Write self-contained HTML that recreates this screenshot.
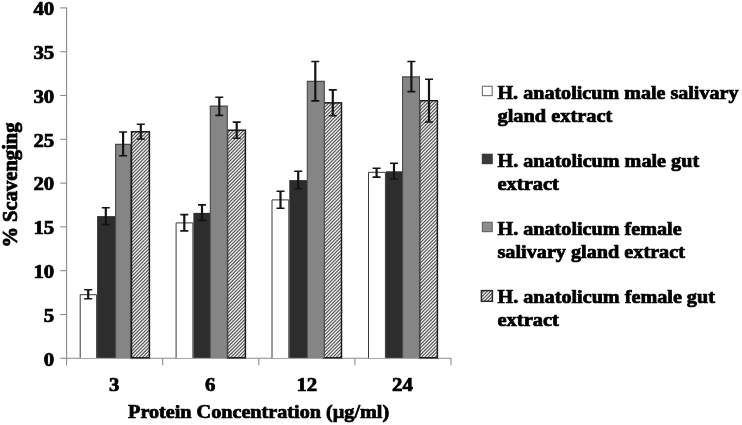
<!DOCTYPE html>
<html><head><meta charset="utf-8"><title>Scavenging chart</title>
<style>
html,body{margin:0;padding:0;background:#fff;}
body{width:742px;height:425px;overflow:hidden;}
svg{display:block;will-change:transform;}
text{font-family:"Liberation Serif","Times New Roman",serif;font-weight:bold;fill:#000;stroke:#000;stroke-width:0.8px;stroke-linejoin:round;}
</style></head><body>
<svg width="742" height="425" viewBox="0 0 742 425">
<rect width="742" height="425" fill="#fff"/>

<g stroke="#8a8a8a" stroke-width="1.1" fill="none">
<path d="M66.6,7.5 V358.3"/>
<path d="M66.6,358.3 H451"/>
<path d="M60.3,358.3 H66.6"/>
<path d="M60.3,314.5 H66.6"/>
<path d="M60.3,270.7 H66.6"/>
<path d="M60.3,226.9 H66.6"/>
<path d="M60.3,183.1 H66.6"/>
<path d="M60.3,139.3 H66.6"/>
<path d="M60.3,95.5 H66.6"/>
<path d="M60.3,51.7 H66.6"/>
<path d="M60.3,7.9 H66.6"/>
<path d="M66.6,358.3 V365.2"/>
<path d="M162.7,358.3 V365.2"/>
<path d="M258.8,358.3 V365.2"/>
<path d="M354.9,358.3 V365.2"/>
<path d="M451.0,358.3 V365.2"/>
</g>
<path d="M80.2,357.9 V294.7 H96.6 V357.9" fill="#fff" stroke="#3a3a3a" stroke-width="1"/>
<path d="M176.1,357.9 V222.9 H192.9 V357.9" fill="#fff" stroke="#3a3a3a" stroke-width="1"/>
<path d="M272.0,357.9 V199.9 H288.8 V357.9" fill="#fff" stroke="#3a3a3a" stroke-width="1"/>
<path d="M368.5,357.9 V172.3 H385.4 V357.9" fill="#fff" stroke="#3a3a3a" stroke-width="1"/>
<rect x="97.1" y="216.1" width="18.0" height="141.8" fill="#2d2d2d"/>
<rect x="193.4" y="212.9" width="16.7" height="145.0" fill="#2d2d2d"/>
<rect x="289.3" y="180.1" width="17.7" height="177.8" fill="#2d2d2d"/>
<rect x="385.9" y="171.3" width="16.2" height="186.6" fill="#2d2d2d"/>
<svg x="131.50" y="131.80" width="17.90" height="226.00" viewBox="131.50 131.80 17.90 226.00" overflow="hidden"><rect x="131.50" y="131.80" width="17.90" height="226.00" fill="#f5f5f5"/><path d="M130.50,131.30L150.40,111.40M130.50,134.70L150.40,114.80M130.50,138.10L150.40,118.20M130.50,141.50L150.40,121.60M130.50,144.90L150.40,125.00M130.50,148.30L150.40,128.40M130.50,151.70L150.40,131.80M130.50,155.10L150.40,135.20M130.50,158.50L150.40,138.60M130.50,161.90L150.40,142.00M130.50,165.30L150.40,145.40M130.50,168.70L150.40,148.80M130.50,172.10L150.40,152.20M130.50,175.50L150.40,155.60M130.50,178.90L150.40,159.00M130.50,182.30L150.40,162.40M130.50,185.70L150.40,165.80M130.50,189.10L150.40,169.20M130.50,192.50L150.40,172.60M130.50,195.90L150.40,176.00M130.50,199.30L150.40,179.40M130.50,202.70L150.40,182.80M130.50,206.10L150.40,186.20M130.50,209.50L150.40,189.60M130.50,212.90L150.40,193.00M130.50,216.30L150.40,196.40M130.50,219.70L150.40,199.80M130.50,223.10L150.40,203.20M130.50,226.50L150.40,206.60M130.50,229.90L150.40,210.00M130.50,233.30L150.40,213.40M130.50,236.70L150.40,216.80M130.50,240.10L150.40,220.20M130.50,243.50L150.40,223.60M130.50,246.90L150.40,227.00M130.50,250.30L150.40,230.40M130.50,253.70L150.40,233.80M130.50,257.10L150.40,237.20M130.50,260.50L150.40,240.60M130.50,263.90L150.40,244.00M130.50,267.30L150.40,247.40M130.50,270.70L150.40,250.80M130.50,274.10L150.40,254.20M130.50,277.50L150.40,257.60M130.50,280.90L150.40,261.00M130.50,284.30L150.40,264.40M130.50,287.70L150.40,267.80M130.50,291.10L150.40,271.20M130.50,294.50L150.40,274.60M130.50,297.90L150.40,278.00M130.50,301.30L150.40,281.40M130.50,304.70L150.40,284.80M130.50,308.10L150.40,288.20M130.50,311.50L150.40,291.60M130.50,314.90L150.40,295.00M130.50,318.30L150.40,298.40M130.50,321.70L150.40,301.80M130.50,325.10L150.40,305.20M130.50,328.50L150.40,308.60M130.50,331.90L150.40,312.00M130.50,335.30L150.40,315.40M130.50,338.70L150.40,318.80M130.50,342.10L150.40,322.20M130.50,345.50L150.40,325.60M130.50,348.90L150.40,329.00M130.50,352.30L150.40,332.40M130.50,355.70L150.40,335.80M130.50,359.10L150.40,339.20M130.50,362.50L150.40,342.60M130.50,365.90L150.40,346.00M130.50,369.30L150.40,349.40M130.50,372.70L150.40,352.80M130.50,376.10L150.40,356.20M130.50,379.50L150.40,359.60" stroke="#585858" stroke-width="1.2" fill="none"/></svg><rect x="131.50" y="131.80" width="17.90" height="226.00" fill="none" stroke="#1c1c1c" stroke-width="1.5"/>
<svg x="227.50" y="130.20" width="17.90" height="227.60" viewBox="227.50 130.20 17.90 227.60" overflow="hidden"><rect x="227.50" y="130.20" width="17.90" height="227.60" fill="#f5f5f5"/><path d="M226.50,130.50L246.40,110.60M226.50,133.90L246.40,114.00M226.50,137.30L246.40,117.40M226.50,140.70L246.40,120.80M226.50,144.10L246.40,124.20M226.50,147.50L246.40,127.60M226.50,150.90L246.40,131.00M226.50,154.30L246.40,134.40M226.50,157.70L246.40,137.80M226.50,161.10L246.40,141.20M226.50,164.50L246.40,144.60M226.50,167.90L246.40,148.00M226.50,171.30L246.40,151.40M226.50,174.70L246.40,154.80M226.50,178.10L246.40,158.20M226.50,181.50L246.40,161.60M226.50,184.90L246.40,165.00M226.50,188.30L246.40,168.40M226.50,191.70L246.40,171.80M226.50,195.10L246.40,175.20M226.50,198.50L246.40,178.60M226.50,201.90L246.40,182.00M226.50,205.30L246.40,185.40M226.50,208.70L246.40,188.80M226.50,212.10L246.40,192.20M226.50,215.50L246.40,195.60M226.50,218.90L246.40,199.00M226.50,222.30L246.40,202.40M226.50,225.70L246.40,205.80M226.50,229.10L246.40,209.20M226.50,232.50L246.40,212.60M226.50,235.90L246.40,216.00M226.50,239.30L246.40,219.40M226.50,242.70L246.40,222.80M226.50,246.10L246.40,226.20M226.50,249.50L246.40,229.60M226.50,252.90L246.40,233.00M226.50,256.30L246.40,236.40M226.50,259.70L246.40,239.80M226.50,263.10L246.40,243.20M226.50,266.50L246.40,246.60M226.50,269.90L246.40,250.00M226.50,273.30L246.40,253.40M226.50,276.70L246.40,256.80M226.50,280.10L246.40,260.20M226.50,283.50L246.40,263.60M226.50,286.90L246.40,267.00M226.50,290.30L246.40,270.40M226.50,293.70L246.40,273.80M226.50,297.10L246.40,277.20M226.50,300.50L246.40,280.60M226.50,303.90L246.40,284.00M226.50,307.30L246.40,287.40M226.50,310.70L246.40,290.80M226.50,314.10L246.40,294.20M226.50,317.50L246.40,297.60M226.50,320.90L246.40,301.00M226.50,324.30L246.40,304.40M226.50,327.70L246.40,307.80M226.50,331.10L246.40,311.20M226.50,334.50L246.40,314.60M226.50,337.90L246.40,318.00M226.50,341.30L246.40,321.40M226.50,344.70L246.40,324.80M226.50,348.10L246.40,328.20M226.50,351.50L246.40,331.60M226.50,354.90L246.40,335.00M226.50,358.30L246.40,338.40M226.50,361.70L246.40,341.80M226.50,365.10L246.40,345.20M226.50,368.50L246.40,348.60M226.50,371.90L246.40,352.00M226.50,375.30L246.40,355.40M226.50,378.70L246.40,358.80" stroke="#585858" stroke-width="1.2" fill="none"/></svg><rect x="227.50" y="130.20" width="17.90" height="227.60" fill="none" stroke="#1c1c1c" stroke-width="1.5"/>
<svg x="323.70" y="102.90" width="17.80" height="254.90" viewBox="323.70 102.90 17.80 254.90" overflow="hidden"><rect x="323.70" y="102.90" width="17.80" height="254.90" fill="#f5f5f5"/><path d="M322.70,102.30L342.50,82.50M322.70,105.70L342.50,85.90M322.70,109.10L342.50,89.30M322.70,112.50L342.50,92.70M322.70,115.90L342.50,96.10M322.70,119.30L342.50,99.50M322.70,122.70L342.50,102.90M322.70,126.10L342.50,106.30M322.70,129.50L342.50,109.70M322.70,132.90L342.50,113.10M322.70,136.30L342.50,116.50M322.70,139.70L342.50,119.90M322.70,143.10L342.50,123.30M322.70,146.50L342.50,126.70M322.70,149.90L342.50,130.10M322.70,153.30L342.50,133.50M322.70,156.70L342.50,136.90M322.70,160.10L342.50,140.30M322.70,163.50L342.50,143.70M322.70,166.90L342.50,147.10M322.70,170.30L342.50,150.50M322.70,173.70L342.50,153.90M322.70,177.10L342.50,157.30M322.70,180.50L342.50,160.70M322.70,183.90L342.50,164.10M322.70,187.30L342.50,167.50M322.70,190.70L342.50,170.90M322.70,194.10L342.50,174.30M322.70,197.50L342.50,177.70M322.70,200.90L342.50,181.10M322.70,204.30L342.50,184.50M322.70,207.70L342.50,187.90M322.70,211.10L342.50,191.30M322.70,214.50L342.50,194.70M322.70,217.90L342.50,198.10M322.70,221.30L342.50,201.50M322.70,224.70L342.50,204.90M322.70,228.10L342.50,208.30M322.70,231.50L342.50,211.70M322.70,234.90L342.50,215.10M322.70,238.30L342.50,218.50M322.70,241.70L342.50,221.90M322.70,245.10L342.50,225.30M322.70,248.50L342.50,228.70M322.70,251.90L342.50,232.10M322.70,255.30L342.50,235.50M322.70,258.70L342.50,238.90M322.70,262.10L342.50,242.30M322.70,265.50L342.50,245.70M322.70,268.90L342.50,249.10M322.70,272.30L342.50,252.50M322.70,275.70L342.50,255.90M322.70,279.10L342.50,259.30M322.70,282.50L342.50,262.70M322.70,285.90L342.50,266.10M322.70,289.30L342.50,269.50M322.70,292.70L342.50,272.90M322.70,296.10L342.50,276.30M322.70,299.50L342.50,279.70M322.70,302.90L342.50,283.10M322.70,306.30L342.50,286.50M322.70,309.70L342.50,289.90M322.70,313.10L342.50,293.30M322.70,316.50L342.50,296.70M322.70,319.90L342.50,300.10M322.70,323.30L342.50,303.50M322.70,326.70L342.50,306.90M322.70,330.10L342.50,310.30M322.70,333.50L342.50,313.70M322.70,336.90L342.50,317.10M322.70,340.30L342.50,320.50M322.70,343.70L342.50,323.90M322.70,347.10L342.50,327.30M322.70,350.50L342.50,330.70M322.70,353.90L342.50,334.10M322.70,357.30L342.50,337.50M322.70,360.70L342.50,340.90M322.70,364.10L342.50,344.30M322.70,367.50L342.50,347.70M322.70,370.90L342.50,351.10M322.70,374.30L342.50,354.50M322.70,377.70L342.50,357.90" stroke="#585858" stroke-width="1.2" fill="none"/></svg><rect x="323.70" y="102.90" width="17.80" height="254.90" fill="none" stroke="#1c1c1c" stroke-width="1.5"/>
<svg x="419.70" y="100.70" width="17.70" height="257.10" viewBox="419.70 100.70 17.70 257.10" overflow="hidden"><rect x="419.70" y="100.70" width="17.70" height="257.10" fill="#f5f5f5"/><path d="M418.70,101.50L438.40,81.80M418.70,104.90L438.40,85.20M418.70,108.30L438.40,88.60M418.70,111.70L438.40,92.00M418.70,115.10L438.40,95.40M418.70,118.50L438.40,98.80M418.70,121.90L438.40,102.20M418.70,125.30L438.40,105.60M418.70,128.70L438.40,109.00M418.70,132.10L438.40,112.40M418.70,135.50L438.40,115.80M418.70,138.90L438.40,119.20M418.70,142.30L438.40,122.60M418.70,145.70L438.40,126.00M418.70,149.10L438.40,129.40M418.70,152.50L438.40,132.80M418.70,155.90L438.40,136.20M418.70,159.30L438.40,139.60M418.70,162.70L438.40,143.00M418.70,166.10L438.40,146.40M418.70,169.50L438.40,149.80M418.70,172.90L438.40,153.20M418.70,176.30L438.40,156.60M418.70,179.70L438.40,160.00M418.70,183.10L438.40,163.40M418.70,186.50L438.40,166.80M418.70,189.90L438.40,170.20M418.70,193.30L438.40,173.60M418.70,196.70L438.40,177.00M418.70,200.10L438.40,180.40M418.70,203.50L438.40,183.80M418.70,206.90L438.40,187.20M418.70,210.30L438.40,190.60M418.70,213.70L438.40,194.00M418.70,217.10L438.40,197.40M418.70,220.50L438.40,200.80M418.70,223.90L438.40,204.20M418.70,227.30L438.40,207.60M418.70,230.70L438.40,211.00M418.70,234.10L438.40,214.40M418.70,237.50L438.40,217.80M418.70,240.90L438.40,221.20M418.70,244.30L438.40,224.60M418.70,247.70L438.40,228.00M418.70,251.10L438.40,231.40M418.70,254.50L438.40,234.80M418.70,257.90L438.40,238.20M418.70,261.30L438.40,241.60M418.70,264.70L438.40,245.00M418.70,268.10L438.40,248.40M418.70,271.50L438.40,251.80M418.70,274.90L438.40,255.20M418.70,278.30L438.40,258.60M418.70,281.70L438.40,262.00M418.70,285.10L438.40,265.40M418.70,288.50L438.40,268.80M418.70,291.90L438.40,272.20M418.70,295.30L438.40,275.60M418.70,298.70L438.40,279.00M418.70,302.10L438.40,282.40M418.70,305.50L438.40,285.80M418.70,308.90L438.40,289.20M418.70,312.30L438.40,292.60M418.70,315.70L438.40,296.00M418.70,319.10L438.40,299.40M418.70,322.50L438.40,302.80M418.70,325.90L438.40,306.20M418.70,329.30L438.40,309.60M418.70,332.70L438.40,313.00M418.70,336.10L438.40,316.40M418.70,339.50L438.40,319.80M418.70,342.90L438.40,323.20M418.70,346.30L438.40,326.60M418.70,349.70L438.40,330.00M418.70,353.10L438.40,333.40M418.70,356.50L438.40,336.80M418.70,359.90L438.40,340.20M418.70,363.30L438.40,343.60M418.70,366.70L438.40,347.00M418.70,370.10L438.40,350.40M418.70,373.50L438.40,353.80M418.70,376.90L438.40,357.20" stroke="#585858" stroke-width="1.2" fill="none"/></svg><rect x="419.70" y="100.70" width="17.70" height="257.10" fill="none" stroke="#1c1c1c" stroke-width="1.5"/>
<path d="M115.6,357.9 V144.4 H130.5 V357.9" fill="#858585" stroke="#484848" stroke-width="1.1"/>
<path d="M210.3,357.9 V106.1 H227.3 V357.9" fill="#858585" stroke="#484848" stroke-width="1.1"/>
<path d="M307.3,357.9 V81.4 H324.3 V357.9" fill="#858585" stroke="#484848" stroke-width="1.1"/>
<path d="M402.6,357.9 V76.9 H419.5 V357.9" fill="#858585" stroke="#484848" stroke-width="1.1"/>
<g stroke="#141414" fill="none">
<path d="M88.2,289.7 V298.7" stroke-width="2.2"/>
<path d="M84.2,289.7 H92.2 M84.2,298.7 H92.2" stroke-width="1.6"/>
<path d="M105.8,207.8 V224.6" stroke-width="2.2"/>
<path d="M101.8,207.8 H109.8 M101.8,224.6 H109.8" stroke-width="1.6"/>
<path d="M123.1,132.0 V155.8" stroke-width="2.2"/>
<path d="M119.1,132.0 H127.1 M119.1,155.8 H127.1" stroke-width="1.6"/>
<path d="M140.8,124.2 V139.0" stroke-width="2.2"/>
<path d="M136.8,124.2 H144.8 M136.8,139.0 H144.8" stroke-width="1.6"/>
<path d="M184.3,214.6 V230.9" stroke-width="2.2"/>
<path d="M180.3,214.6 H188.3 M180.3,230.9 H188.3" stroke-width="1.6"/>
<path d="M202.0,204.9 V220.4" stroke-width="2.2"/>
<path d="M198.0,204.9 H206.0 M198.0,220.4 H206.0" stroke-width="1.6"/>
<path d="M219.3,97.3 V115.4" stroke-width="2.2"/>
<path d="M215.3,97.3 H223.3 M215.3,115.4 H223.3" stroke-width="1.6"/>
<path d="M236.7,122.1 V138.3" stroke-width="2.2"/>
<path d="M232.7,122.1 H240.7 M232.7,138.3 H240.7" stroke-width="1.6"/>
<path d="M280.5,191.2 V208.3" stroke-width="2.2"/>
<path d="M276.5,191.2 H284.5 M276.5,208.3 H284.5" stroke-width="1.6"/>
<path d="M298.2,171.2 V188.7" stroke-width="2.2"/>
<path d="M294.2,171.2 H302.2 M294.2,188.7 H302.2" stroke-width="1.6"/>
<path d="M315.3,61.5 V100.9" stroke-width="2.2"/>
<path d="M311.3,61.5 H319.3 M311.3,100.9 H319.3" stroke-width="1.6"/>
<path d="M332.8,89.9 V115.8" stroke-width="2.2"/>
<path d="M328.8,89.9 H336.8 M328.8,115.8 H336.8" stroke-width="1.6"/>
<path d="M376.6,168.3 V177.1" stroke-width="2.2"/>
<path d="M372.6,168.3 H380.6 M372.6,177.1 H380.6" stroke-width="1.6"/>
<path d="M394.0,163.2 V179.0" stroke-width="2.2"/>
<path d="M390.0,163.2 H398.0 M390.0,179.0 H398.0" stroke-width="1.6"/>
<path d="M411.4,61.5 V91.6" stroke-width="2.2"/>
<path d="M407.4,61.5 H415.4 M407.4,91.6 H415.4" stroke-width="1.6"/>
<path d="M429.0,79.2 V122.0" stroke-width="2.2"/>
<path d="M425.0,79.2 H433.0 M425.0,122.0 H433.0" stroke-width="1.6"/>
</g>
<text transform="translate(54.2,365.5) scale(1.04,0.935)" font-size="20" text-anchor="end">0</text>
<text transform="translate(54.2,321.7) scale(1.04,0.935)" font-size="20" text-anchor="end">5</text>
<text transform="translate(54.2,277.9) scale(1.04,0.935)" font-size="20" text-anchor="end">10</text>
<text transform="translate(54.2,234.1) scale(1.04,0.935)" font-size="20" text-anchor="end">15</text>
<text transform="translate(54.2,190.3) scale(1.04,0.935)" font-size="20" text-anchor="end">20</text>
<text transform="translate(54.2,146.5) scale(1.04,0.935)" font-size="20" text-anchor="end">25</text>
<text transform="translate(54.2,102.7) scale(1.04,0.935)" font-size="20" text-anchor="end">30</text>
<text transform="translate(54.2,58.9) scale(1.04,0.935)" font-size="20" text-anchor="end">35</text>
<text transform="translate(54.2,15.1) scale(1.04,0.935)" font-size="20" text-anchor="end">40</text>
<text transform="translate(114.2,391.4) scale(1.04,0.935)" font-size="20" text-anchor="middle">3</text>
<text transform="translate(210.3,391.4) scale(1.04,0.935)" font-size="20" text-anchor="middle">6</text>
<text transform="translate(306.8,391.4) scale(1.04,0.935)" font-size="20" text-anchor="middle">12</text>
<text transform="translate(402.4,391.4) scale(1.04,0.935)" font-size="20" text-anchor="middle">24</text>
<text id="xt" transform="translate(128.1,418.2) scale(1,0.925)" font-size="20" textLength="261" lengthAdjust="spacingAndGlyphs">Protein Concentration (µg/ml)</text>
<text id="yt" transform="translate(16.7,247.6) rotate(-90) scale(1,1)" font-size="20" textLength="125.2" lengthAdjust="spacingAndGlyphs">% Scavenging</text>
<rect x="482.4" y="86.3" width="9.8" height="9.3" fill="#fff" stroke="#777" stroke-width="1.2"/>
<text transform="translate(497.5,98.6) scale(1,0.935)" font-size="20" textLength="241.0" lengthAdjust="spacingAndGlyphs">H. anatolicum male salivary</text>
<text transform="translate(497.5,121.5) scale(1,0.935)" font-size="20" textLength="114.9" lengthAdjust="spacingAndGlyphs">gland extract</text>
<rect x="481.8" y="153.7" width="11" height="10.5" fill="#3a3a3a"/>
<text transform="translate(497.5,166.6) scale(1,0.935)" font-size="20" textLength="201.6" lengthAdjust="spacingAndGlyphs">H. anatolicum male gut</text>
<text transform="translate(497.5,189.5) scale(1,0.935)" font-size="20" textLength="61.4" lengthAdjust="spacingAndGlyphs">extract</text>
<rect x="482.4" y="222.3" width="9.8" height="9.3" fill="#8c8c8c" stroke="#666" stroke-width="1.2"/>
<text transform="translate(497.5,234.6) scale(1,0.935)" font-size="20" textLength="184.1" lengthAdjust="spacingAndGlyphs">H. anatolicum female</text>
<text transform="translate(497.5,257.5) scale(1,0.935)" font-size="20" textLength="187.4" lengthAdjust="spacingAndGlyphs">salivary gland extract</text>
<svg x="481.40" y="290.60" width="11.00" height="10.70" viewBox="481.40 290.60 11.00 10.70" overflow="hidden"><rect x="481.40" y="290.60" width="11.00" height="10.70" fill="#f5f5f5"/><path d="M480.40,291.40L493.40,278.40M480.40,294.80L493.40,281.80M480.40,298.20L493.40,285.20M480.40,301.60L493.40,288.60M480.40,305.00L493.40,292.00M480.40,308.40L493.40,295.40M480.40,311.80L493.40,298.80M480.40,315.20L493.40,302.20" stroke="#585858" stroke-width="1.15" fill="none"/></svg><rect x="481.40" y="290.60" width="11.00" height="10.70" fill="none" stroke="#2a2a2a" stroke-width="1.5"/>
<text transform="translate(497.5,302.6) scale(1,0.935)" font-size="20" textLength="217.4" lengthAdjust="spacingAndGlyphs">H. anatolicum female gut</text>
<text transform="translate(497.5,325.5) scale(1,0.935)" font-size="20" textLength="61.4" lengthAdjust="spacingAndGlyphs">extract</text>
</svg></body></html>
